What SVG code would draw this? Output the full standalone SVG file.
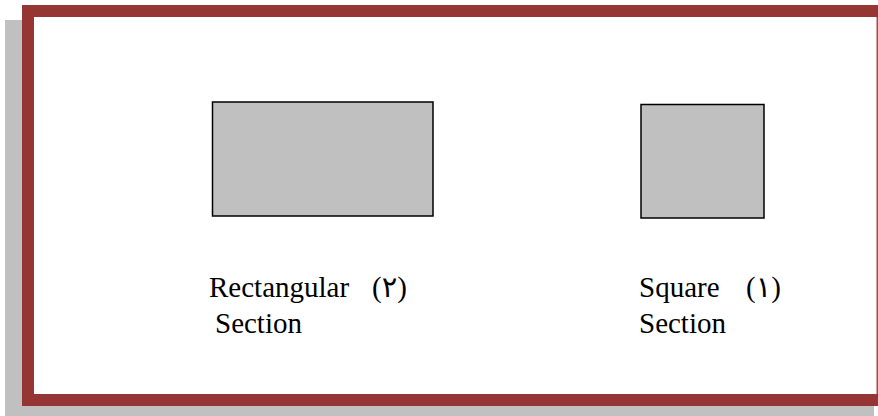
<svg xmlns="http://www.w3.org/2000/svg" width="878" height="416" viewBox="0 0 878 416">
  <style>
    .shape { fill: #c0c0c0; stroke: #000000; stroke-width: 1.5; }
    .label { font-family: "Liberation Serif", "DejaVu Sans", serif; font-size: 29px; fill: #000000; }
    .border { fill: #963634; }
  </style>
  <rect width="878" height="416" fill="#ffffff"/>

  <!-- drop shadow of the frame -->
  <rect x="5" y="20" width="869" height="396" fill="#c0c0c0"/>

  <!-- framed panel -->
  <g id="frame">
    <rect x="22" y="5" width="856" height="401" fill="#ffffff"/>
    <rect class="border" x="22" y="5" width="856" height="12"/>
    <rect class="border" x="22" y="5" width="12" height="401"/>
    <rect class="border" x="22" y="394" width="856" height="12"/>
    <rect x="876.5" y="17" width="1.5" height="377" fill="#a84a48"/>
  </g>

  <!-- rectangular cross-section -->
  <g id="rectangular-section">
    <rect class="shape" x="212.5" y="102" width="220.5" height="114"/>
    <text class="label" x="209" y="297">Rectangular</text>
    <text class="label" x="372" y="297">(٢)</text>
    <text class="label" x="215" y="333">Section</text>
  </g>

  <!-- square cross-section -->
  <g id="square-section">
    <rect class="shape" x="641" y="104.5" width="123" height="113.5"/>
    <text class="label" x="639" y="297">Square</text>
    <text class="label" x="746" y="297">(١)</text>
    <text class="label" x="639" y="333">Section</text>
  </g>

  <g id="connectors"/>
</svg>
